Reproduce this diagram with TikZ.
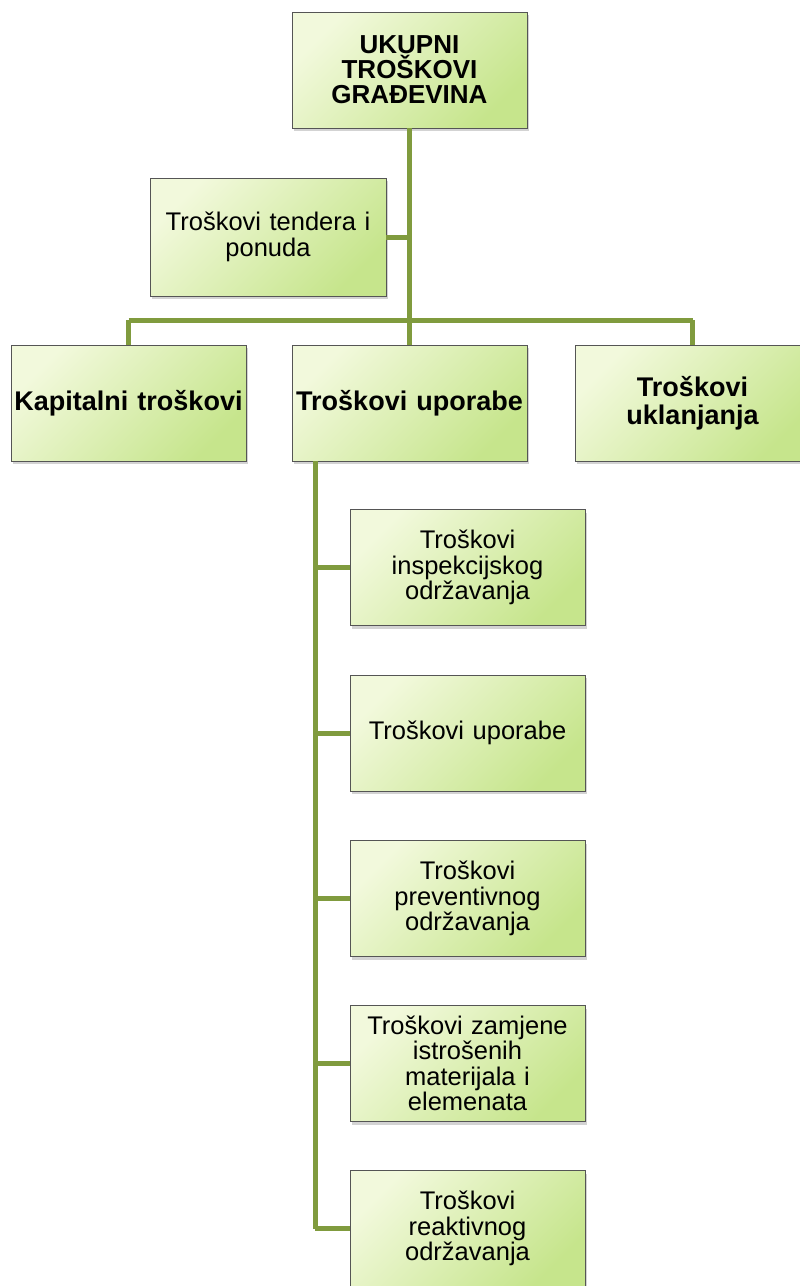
\documentclass[tikz,border=0pt]{standalone}
\usepackage{fontspec}
\setmainfont{Liberation Sans}
\usetikzlibrary{shadows,calc}
\definecolor{boxlight}{HTML}{F2F9DC}
\definecolor{boxgreen}{HTML}{C6E58C}
\definecolor{boxedge}{HTML}{555555}
\definecolor{linkgreen}{HTML}{809B3E}
\tikzset{
  box/.style={rectangle, draw=boxedge, line width=0.9pt,
    top color=boxlight, bottom color=boxgreen, shading angle=45,
    drop shadow={opacity=0.35, shadow xshift=2pt, shadow yshift=-3pt},
    minimum width=235pt, minimum height=116pt, inner sep=2pt,
    text width=231pt, align=center},
  topbox/.style={box, font=\fontsize{26}{25}\selectfont\bfseries},
  lvlbox/.style={box, font=\fontsize{27}{28}\selectfont\bfseries},
  subbox/.style={box, font=\fontsize{25.5}{25.5}\selectfont},
  link/.style={draw=linkgreen, line width=5pt}
}
\begin{document}
\begin{tikzpicture}[x=1pt,y=-1pt]
\useasboundingbox (0,0) rectangle (800,1286);
\clip (0,0) rectangle (800,1286);
\node[topbox] (top) at (409.5,70) {UKUPNI\\TROŠKOVI\\GRAĐEVINA};
\node[subbox, minimum width=236pt, minimum height=118pt] (tender) at (268,237) {Troškovi tendera i\\ponuda};
\node[lvlbox, minimum width=233pt] (kap) at (128.5,403) {Kapitalni troškovi};
\node[lvlbox] (upo) at (409.5,403) {Troškovi uporabe};
\node[lvlbox] (ukl) at (692.5,403) {Troškovi\\uklanjanja};
\node[subbox] (c1) at (467.5,567.5) {Troškovi\\inspekcijskog\\održavanja};
\node[subbox] (c2) at (467.5,733) {Troškovi uporabe};
\node[subbox] (c3) at (467.5,898.5) {Troškovi\\preventivnog\\održavanja};
\node[subbox] (c4) at (467.5,1063.5) {Troškovi zamjene\\istrošenih\\materijala i\\elemenata};
\node[subbox] (c5) at (467.5,1228.5) {Troškovi\\reaktivnog\\održavanja};
\coordinate (bus) at (409.5,320);
\coordinate (spine) at (315,461);
\draw[link] (top.south) -- (bus);
\draw[link] (tender.east) -- (tender.east -| top.south);
\draw[link] (kap.north |- bus) -- (ukl.north |- bus);
\draw[link] (kap.north |- bus) -- (kap.north);
\draw[link] (upo.north |- bus) -- (upo.north);
\draw[link] (ukl.north |- bus) -- (ukl.north);
\draw[link] (spine) -- (spine |- c5.west);
\foreach \c in {c1,c2,c3,c4,c5}
  \draw[link] (spine |- \c.west) -- (\c.west);
\end{tikzpicture}
\end{document}
